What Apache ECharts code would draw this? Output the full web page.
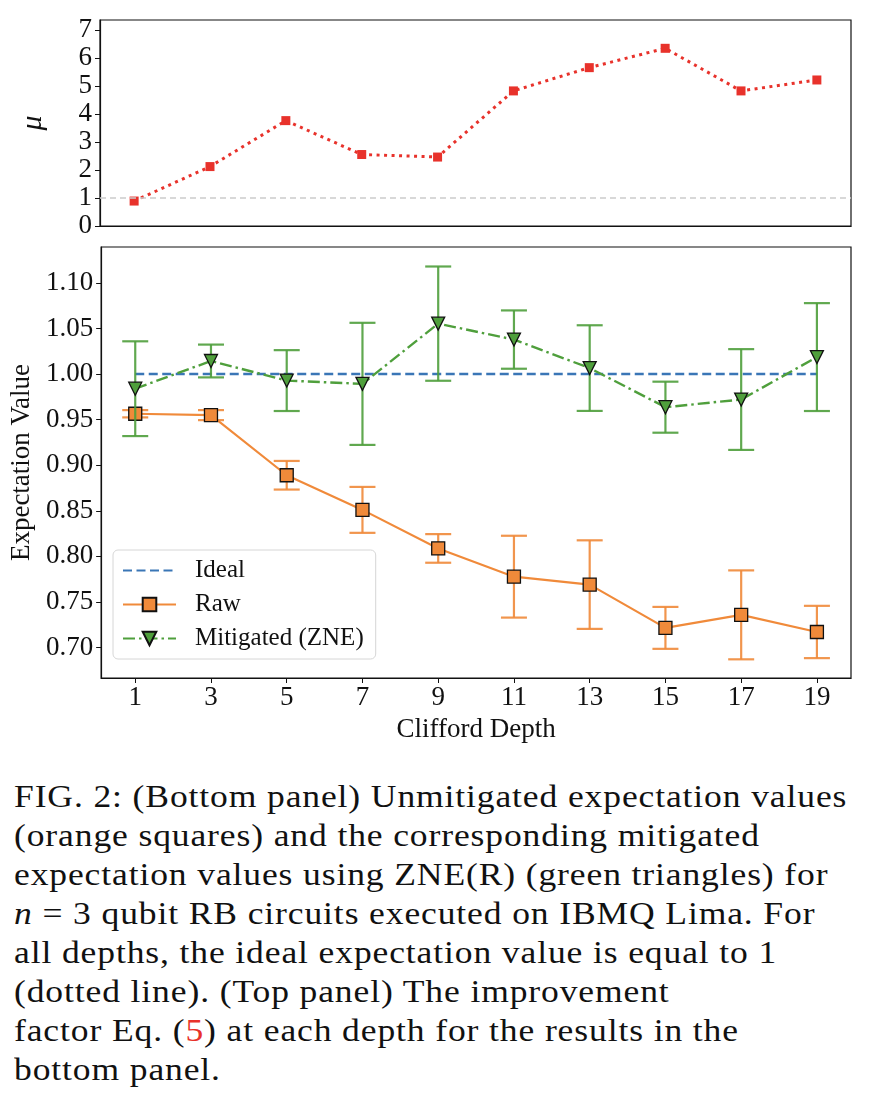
<!DOCTYPE html>
<html lang="en">

<head>
    <meta charset="UTF-8">
    <title>ZNE on IBMQ Lima - expectation values</title>
    <script src="https://cdn.jsdelivr.net/npm/echarts@6.0.0/dist/echarts.min.js"></script>
    <style>
        body { margin: 0; background: #fff; }
        #main { width: 870px; height: 760px; }
        #caption {
            position: absolute; left: 14px; top: 777px;
            font-family: 'Liberation Serif', serif; font-size: 32px; line-height: 39px;
            letter-spacing: 0.8px; color: #111; white-space: nowrap;
            transform: scaleX(1.11); transform-origin: left top;
        }
        #caption .ref { color: #e8322b; }
    </style>
</head>

<body>
    <div id="main"></div>
    <div id="caption">
        <div>FIG. 2: (Bottom panel) Unmitigated expectation values</div>
        <div>(orange squares) and the corresponding mitigated</div>
        <div>expectation values using ZNE(R) (green triangles) for</div>
        <div><i>n</i> = 3 qubit RB circuits executed on IBMQ Lima. For</div>
        <div>all depths, the ideal expectation value is equal to 1</div>
        <div>(dotted line). (Top panel) The improvement</div>
        <div>factor Eq. (<span class="ref">5</span>) at each depth for the results in the</div>
        <div>bottom panel.</div>
    </div>
    <script type="text/javascript">
        // data
        const depths = [1, 3, 5, 7, 9, 11, 13, 15, 17, 19];
        const muValues = [0.89, 2.12, 3.76, 2.55, 2.46, 4.82, 5.65, 6.34, 4.82, 5.21];
        const idealValues = [1, 1, 1, 1, 1, 1, 1, 1, 1, 1];
        const rawValues = [0.9565, 0.955, 0.889, 0.851, 0.8087, 0.7777, 0.769, 0.7215, 0.7358, 0.717];
        const rawErrors = [0.004, 0.0055, 0.0157, 0.0252, 0.0157, 0.0449, 0.0486, 0.023, 0.0488, 0.0287];
        const mitigatedValues = [0.984, 1.0144, 0.9929, 0.9893, 1.0554, 1.0379, 1.0066, 0.9637, 0.9721, 1.0187];
        const mitigatedErrors = [0.052, 0.018, 0.0334, 0.067, 0.0627, 0.032, 0.047, 0.028, 0.0553, 0.0592];
        const muTicks = [0, 1, 2, 3, 4, 5, 6, 7];
        const expTicks = [0.70, 0.75, 0.80, 0.85, 0.90, 0.95, 1.00, 1.05, 1.10];
        const muBaseline = 1;

        const serif = 'Liberation Serif';
        const blue = '#3a76b6', orange = '#f08a3a', green = '#4f9f3c', red = '#e8322b';

        const pairs = (ys) => depths.map((d, i) => [d, ys[i]]);
        const errPairs = (ys, es) => depths.map((d, i) => [d, ys[i] - es[i], ys[i] + es[i]]);

        // vertical bar with caps, placed through the axis scales
        function errorBar(color) {
            return function (params, api) {
                const lo = api.coord([api.value(0), api.value(1)]);
                const hi = api.coord([api.value(0), api.value(2)]);
                const w = 13;
                const st = { stroke: color, lineWidth: 2.2, opacity: 0.9 };
                return {
                    type: 'group',
                    children: [
                        { type: 'line', shape: { x1: lo[0], y1: lo[1], x2: hi[0], y2: hi[1] }, style: st },
                        { type: 'line', shape: { x1: lo[0] - w, y1: lo[1], x2: lo[0] + w, y2: lo[1] }, style: st },
                        { type: 'line', shape: { x1: hi[0] - w, y1: hi[1], x2: hi[0] + w, y2: hi[1] }, style: st }
                    ]
                };
            };
        }

        const axisText = { fontFamily: serif, fontSize: 27, color: '#111' };

        let myChart = echarts.init(document.getElementById('main'));

        const options = {
            animation: false,
            grid: [
                { left: 100, width: 751, top: 20, height: 206, show: true, borderColor: '#111', borderWidth: 1.2 },
                { left: 100, width: 751, top: 247, height: 431, show: true, borderColor: '#111', borderWidth: 1.2 }
            ],
            xAxis: [
                {
                    gridIndex: 0, type: 'value', min: 0.1, max: 19.9,
                    axisLine: { lineStyle: { color: '#111', width: 1.2 } },
                    axisTick: { show: false }, axisLabel: { show: false }, splitLine: { show: false }
                },
                {
                    gridIndex: 1, type: 'value', min: 0.1, max: 19.9,
                    name: 'Clifford Depth', nameLocation: 'middle', nameGap: 38, nameTextStyle: axisText,
                    axisLine: { lineStyle: { color: '#111', width: 1.2 } },
                    axisTick: { customValues: depths, length: 5, lineStyle: { color: '#111' } },
                    axisLabel: { customValues: depths, margin: 6, ...axisText },
                    splitLine: { show: false }
                }
            ],
            yAxis: [
                {
                    gridIndex: 0, type: 'value', min: 0, max: 7.35,
                    name: 'μ', nameLocation: 'middle', nameGap: 52,
                    nameTextStyle: { ...axisText, fontStyle: 'italic', fontSize: 30 },
                    axisLine: { show: true, lineStyle: { color: '#111', width: 1.2 } },
                    axisTick: { show: true, customValues: muTicks, length: 5, lineStyle: { color: '#111' } },
                    axisLabel: { customValues: muTicks, margin: 8, ...axisText },
                    splitLine: { show: false }
                },
                {
                    gridIndex: 1, type: 'value', min: 0.6665, max: 1.1395,
                    name: 'Expectation Value', nameLocation: 'middle', nameGap: 58, nameTextStyle: axisText,
                    axisLine: { show: true, lineStyle: { color: '#111', width: 1.2 } },
                    axisTick: { show: true, customValues: expTicks, length: 5, lineStyle: { color: '#111' } },
                    axisLabel: { customValues: expTicks, margin: 8, formatter: (v) => v.toFixed(2), ...axisText },
                    splitLine: { show: false }
                }
            ],
            legend: {
                data: [{ name: 'Ideal', itemStyle: { opacity: 0 } }, 'Raw', 'Mitigated (ZNE)'],
                orient: 'vertical', left: 113, top: 550,
                backgroundColor: '#fff', borderColor: '#d6d6d6', borderWidth: 1, borderRadius: 5,
                padding: [8, 12, 8, 9], itemGap: 9, itemWidth: 53, itemHeight: 17,
                textStyle: { ...axisText, fontSize: 25, padding: [0, 0, 0, 14] }
            },
            series: [
                {
                    name: 'mu', type: 'line', xAxisIndex: 0, yAxisIndex: 0,
                    data: pairs(muValues),
                    symbol: 'rect', symbolSize: 9,
                    itemStyle: { color: red },
                    lineStyle: { color: red, width: 3, type: [3, 4.5], cap: 'butt' },
                    markLine: {
                        silent: true, symbol: 'none', label: { show: false },
                        lineStyle: { color: '#cccccc', width: 1.5, type: [6, 4] },
                        data: [{ yAxis: muBaseline }]
                    },
                    z: 3
                },
                {
                    name: 'Ideal', type: 'line', xAxisIndex: 1, yAxisIndex: 1,
                    data: pairs(idealValues), symbol: 'none',
                    itemStyle: { color: blue },
                    lineStyle: { color: blue, width: 2.5, type: [9, 4.5] },
                    z: 2
                },
                {
                    name: 'rawErr', type: 'custom', xAxisIndex: 1, yAxisIndex: 1,
                    data: errPairs(rawValues, rawErrors), renderItem: errorBar(orange), z: 3
                },
                {
                    name: 'Raw', type: 'line', xAxisIndex: 1, yAxisIndex: 1,
                    data: pairs(rawValues),
                    symbol: 'rect', symbolSize: 13,
                    itemStyle: { color: orange, borderColor: '#111', borderWidth: 1.3 },
                    lineStyle: { color: orange, width: 2.2 },
                    z: 4
                },
                {
                    name: 'mitErr', type: 'custom', xAxisIndex: 1, yAxisIndex: 1,
                    data: errPairs(mitigatedValues, mitigatedErrors), renderItem: errorBar(green), z: 5
                },
                {
                    name: 'Mitigated (ZNE)', type: 'line', xAxisIndex: 1, yAxisIndex: 1,
                    data: pairs(mitigatedValues),
                    symbol: 'triangle', symbolRotate: 180, symbolSize: 13,
                    itemStyle: { color: green, borderColor: '#111', borderWidth: 1.3 },
                    lineStyle: { color: green, width: 2.4, type: [12, 4, 2.5, 4] },
                    z: 6
                }
            ]
        };

        myChart.setOption(options);
    </script>
</body>

</html>
